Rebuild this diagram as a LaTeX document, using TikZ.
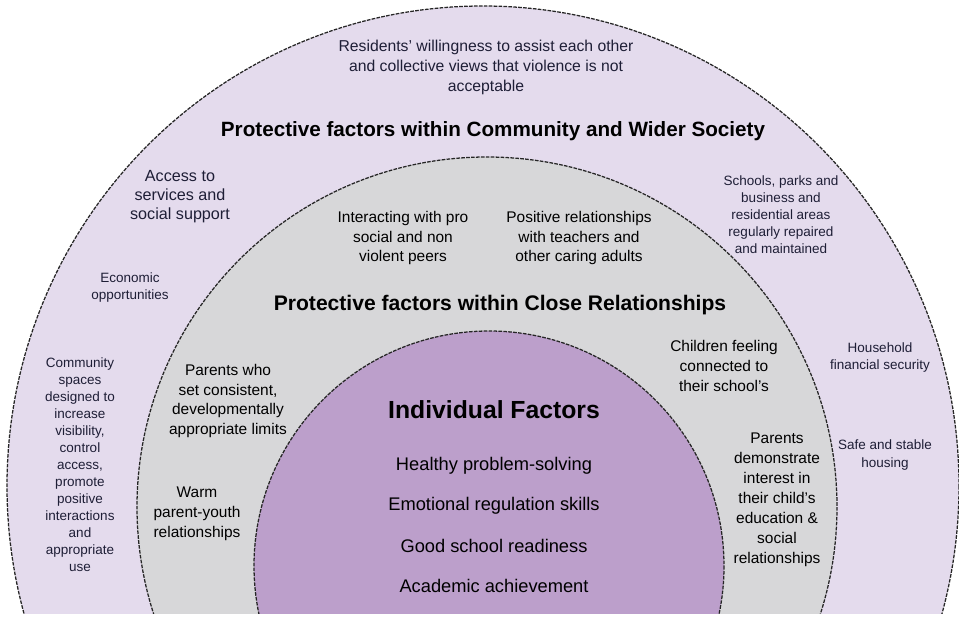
\documentclass[tikz,border=0pt]{standalone}
\usepackage{fontspec}
\setmainfont{Liberation Sans}
\usepackage{xcolor}
\usetikzlibrary{positioning}
\definecolor{ringouter}{HTML}{E4DBED}
\definecolor{ringmid}{HTML}{D7D7D9}
\definecolor{ringinner}{HTML}{BC9FCB}
\definecolor{navytext}{HTML}{1E1E36}

\begin{document}
\begin{tikzpicture}[
    x=0.25mm, y=-0.25mm,
    ring/.style={draw=black!85, line width=0.9pt, dash pattern=on 2.6pt off 0.9pt},
    outerfact/.style={align=center, inner sep=0pt, text=navytext,
                      font=\fontsize{9.6}{12.1}\selectfont},
    midfact/.style={align=center, inner sep=0pt,
                    font=\fontsize{11}{14.2}\selectfont},
    innerfact/.style={inner sep=0pt, font=\fontsize{13}{15}\selectfont},
    ringtitle/.style={inner sep=0pt, font=\bfseries\fontsize{14.7}{17}\selectfont},
]
\useasboundingbox (0,0) rectangle (959,620);

%% Rings (cut off at the bottom edge)
\begin{scope}
  \clip (0,0) rectangle (959,613);
  \draw[ring, fill=ringouter] (483,486) circle [x radius=476, y radius=480];
  \draw[ring, fill=ringmid]   (487,507) circle [x radius=350, y radius=350];
  \draw[ring, fill=ringinner] (489,566) circle [x radius=235, y radius=235];
\end{scope}

%% Community and wider society
\node[outerfact, font=\fontsize{11.2}{14.2}\selectfont] (residents) at (486,67)
    {Residents’ willingness to assist each other\\and collective views that violence is not\\acceptable};
\node[ringtitle] (commtitle) at (493,131) {Protective factors within Community and Wider Society};
\node[outerfact, font=\fontsize{11.5}{13.5}\selectfont] (access) at (180,197)
    {Access to\\services and\\social support};
\node[outerfact] (economic) at (130,288) {Economic\\opportunities};
\node[outerfact] (spaces) at (80,465)
    {Community\\spaces\\designed to\\increase\\visibility,\\control\\access,\\promote\\positive\\interactions\\and\\appropriate\\use};
\node[outerfact] (schools) at (781,215)
    {Schools, parks and\\business and\\residential areas\\regularly repaired\\and maintained};
\node[outerfact] (household) at (880,358) {Household\\financial security};
\node[outerfact] (housing) at (885,455) {Safe and stable\\housing};

%% Close relationships
\node[midfact] (peers) at (403,238) {Interacting with pro\\social and non\\violent peers};
\node[midfact] (teachers) at (579,238) {Positive relationships\\with teachers and\\other caring adults};
\node[ringtitle, font=\bfseries\fontsize{15}{17}\selectfont] (closetitle) at (500,305)
    {Protective factors within Close Relationships};
\node[midfact] (limits) at (228,401) {Parents who\\set consistent,\\developmentally\\appropriate limits};
\node[midfact] (warm) at (197,514) {Warm\\parent-youth\\relationships};
\node[midfact] (connected) at (724,366) {Children feeling\\connected to\\their school’s};
\node[midfact] (interest) at (777,500)
    {Parents\\demonstrate\\interest in\\their child’s\\education \&\\social\\relationships};

%% Individual factors
\node[ringtitle, font=\bfseries\fontsize{17.6}{20}\selectfont] (indtitle) at (494,410) {Individual Factors};
\node[innerfact] (problem)   at (494,466) {Healthy problem-solving};
\node[innerfact] (emotional) at (494,506) {Emotional regulation skills};
\node[innerfact] (readiness) at (494,546) {Good school readiness};
\node[innerfact] (academic)  at (494,586) {Academic achievement};

\end{tikzpicture}
\end{document}
